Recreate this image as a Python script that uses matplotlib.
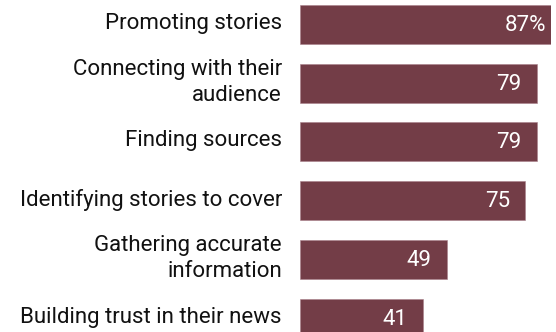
import matplotlib
matplotlib.use("Agg")
import matplotlib.pyplot as plt

# share of respondents naming each task
tasks = [
    "Promoting stories",
    "Connecting with their\naudience",
    "Finding sources",
    "Identifying stories to cover",
    "Gathering accurate\ninformation",
    "Building trust in their news",
]
shares = [87, 79, 79, 75, 49, 41]
value_labels = ["87%", "79", "79", "75", "49", "41"]

BAR = "#733d47"
W, H, DPI = 556, 332, 100

fig = plt.figure(figsize=(W / DPI, H / DPI), dpi=DPI)
left_px, right_px = 299.5, 551
ax = fig.add_axes([left_px / W, 0, (right_px - left_px) / W, 1])

px_per_unit = 3.01
ax.set_xlim(0, (right_px - left_px) / px_per_unit)
pitch = 58.7
ax.set_ylim((H - 24.5) / pitch, -24.5 / pitch)

ypos = list(range(len(tasks)))
ax.barh(ypos, shares, height=39 / pitch, color=BAR, edgecolor="#a9808a", linewidth=0.4)

for y, label, v, txt in zip(ypos, tasks, shares, value_labels):
    ax.annotate(label, xy=(0, y), xytext=(-17.5, 1), textcoords="offset pixels",
                ha="right", va="center", fontsize=16, family="Roboto",
                color="#111111", linespacing=1.3, annotation_clip=False)
    ax.annotate(txt, xy=(v, y), xytext=(-15.5, -1), textcoords="offset pixels",
                ha="right", va="center", fontsize=16, family="Roboto",
                color="white", annotation_clip=False)

ax.axis("off")
fig.savefig("out.png", dpi=DPI)
